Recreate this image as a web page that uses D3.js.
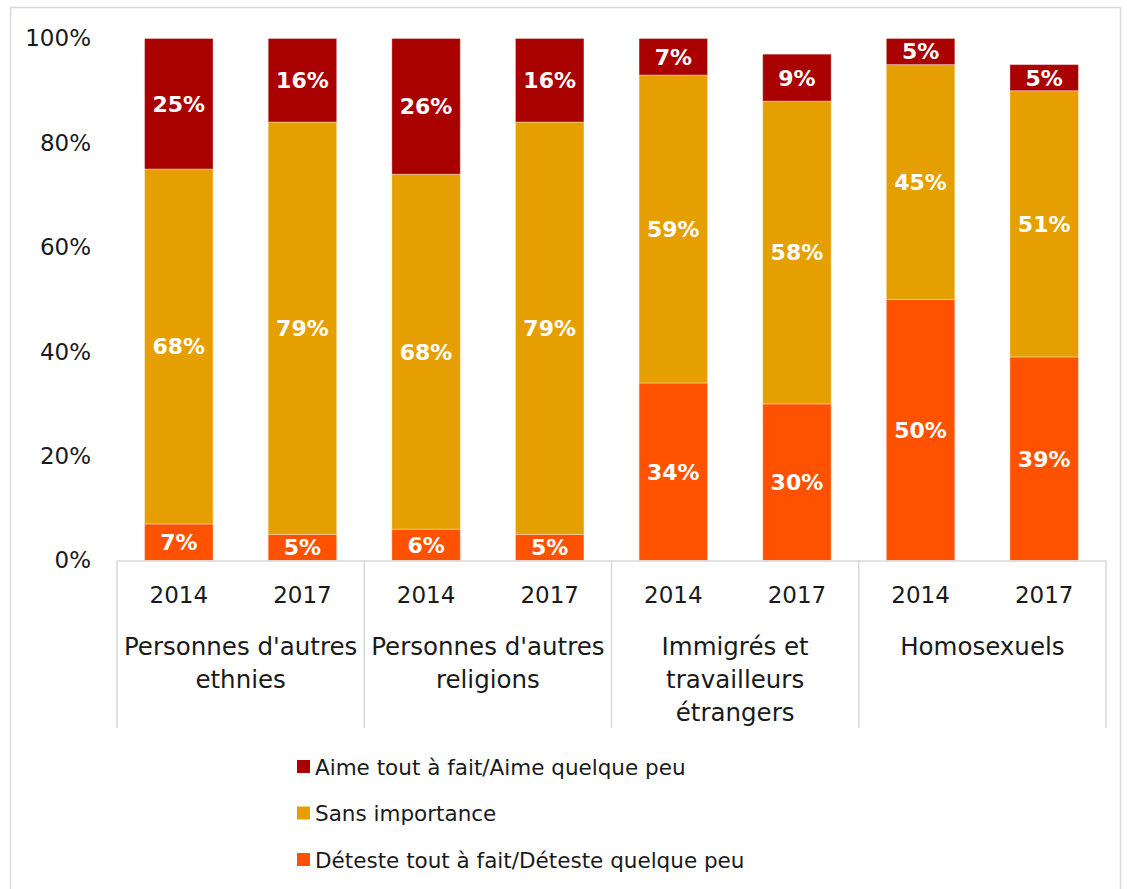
<!DOCTYPE html>
<html>
<head>
  <meta charset="utf-8">
  <title>Attitudes envers les voisins</title>
  <script src="https://d3js.org/d3.v7.min.js"></script>
  <style>
    body { margin: 0; background: #fff; font-family: "DejaVu Sans", sans-serif; }
    .tick text { font-size: 23px; fill: #1a1a1a; }
    .lbl { font-size: 22px; font-weight: bold; fill: #fff; }
    .axis-txt { font-size: 23px; fill: #1a1a1a; }
    .grp-txt { font-size: 24.5px; fill: #1a1a1a; }
    .leg-txt { font-size: 21.5px; fill: #1a1a1a; }
  </style>
</head>
<body>
  <svg id="chart" width="1127" height="889"></svg>

  <script>
    // categories and years
    const groups = [
      ["Personnes d'autres", "ethnies"],
      ["Personnes d'autres", "religions"],
      ["Immigrés et", "travailleurs", "étrangers"],
      ["Homosexuels"]
    ];
    const years = ["2014", "2017"];

    // series (one value per bar, in order: group x year)
    const seriesNames = [
      "Déteste tout à fait/Déteste quelque peu",
      "Sans importance",
      "Aime tout à fait/Aime quelque peu"
    ];
    const deteste   = [7, 5, 6, 5, 34, 30, 50, 39];
    const sansImp   = [68, 79, 68, 79, 59, 58, 45, 51];
    const aime      = [25, 16, 26, 16, 7, 9, 5, 5];
    const colors = ["#ff5200", "#e69f00", "#a90000"];

    const yTicks = [0, 20, 40, 60, 80, 100];

    const svg = d3.select("#chart");

    // outer frame
    svg.append("rect")
      .attr("x", 10.5).attr("y", 7.5)
      .attr("width", 1110).attr("height", 900)
      .attr("fill", "none")
      .attr("stroke", "#d9d9d9")
      .attr("stroke-width", 1.5);

    const x0 = 117, x1 = 1106;
    const yTop = 38.5, yBase = 560.5;

    const barKeys = [];
    groups.forEach((g, gi) => years.forEach(yr => barKeys.push(gi + "-" + yr)));

    const x = d3.scaleBand()
      .domain(barKeys)
      .range([x0, x1])
      .paddingInner(0.446)
      .paddingOuter(0.223);

    const xg = d3.scaleBand()
      .domain(groups.map((g, i) => i))
      .range([x0, x1]);

    const y = d3.scaleLinear().domain([0, 100]).range([yBase, yTop]);

    // stacked data
    const rows = barKeys.map((k, i) => ({ key: k, d: deteste[i], s: sansImp[i], a: aime[i] }));
    const stack = d3.stack().keys(["d", "s", "a"])(rows);

    // y axis
    const yAxis = svg.append("g")
      .attr("transform", "translate(91,0)")
      .call(d3.axisLeft(y).tickValues(yTicks).tickFormat(d => d + "%").tickSize(0).tickPadding(0));
    yAxis.select(".domain").remove();
    yAxis.selectAll("text").attr("font-family", "DejaVu Sans");

    // bars
    stack.forEach((layer, li) => {
      const g = svg.append("g");
      g.selectAll("rect")
        .data(layer)
        .join("rect")
        .attr("x", d => x(d.data.key))
        .attr("y", d => y(d[1]))
        .attr("width", x.bandwidth())
        .attr("height", d => y(d[0]) - y(d[1]))
        .attr("fill", colors[li])
        .attr("stroke", "#fff")
        .attr("stroke-opacity", 0.35)
        .attr("stroke-width", 1);

      g.selectAll("text")
        .data(layer)
        .join("text")
        .attr("class", "lbl")
        .attr("x", d => x(d.data.key) + x.bandwidth() / 2)
        .attr("y", d => (y(d[0]) + y(d[1])) / 2)
        .attr("dy", "0.36em")
        .attr("text-anchor", "middle")
        .text(d => (d[1] - d[0]) + "%");
    });

    // x axis line and group dividers
    svg.append("line")
      .attr("x1", x0).attr("x2", x1)
      .attr("y1", yBase + 0.5).attr("y2", yBase + 0.5)
      .attr("stroke", "#d9d9d9").attr("stroke-width", 1.5);

    const dividers = groups.map((g, i) => xg(i)).concat([x1]);
    svg.append("g")
      .selectAll("line")
      .data(dividers)
      .join("line")
      .attr("x1", d => d).attr("x2", d => d)
      .attr("y1", yBase).attr("y2", 728)
      .attr("stroke", "#d9d9d9").attr("stroke-width", 1.5);

    // year labels
    svg.append("g")
      .selectAll("text")
      .data(barKeys)
      .join("text")
      .attr("class", "axis-txt")
      .attr("x", d => x(d) + x.bandwidth() / 2)
      .attr("y", 595)
      .attr("dy", "0.36em")
      .attr("text-anchor", "middle")
      .text(d => d.split("-")[1]);

    // group labels
    const gl = svg.append("g")
      .selectAll("text")
      .data(groups)
      .join("text")
      .attr("class", "grp-txt")
      .attr("text-anchor", "middle")
      .attr("x", (d, i) => xg(i) + xg.bandwidth() / 2)
      .attr("y", 646);
    gl.selectAll("tspan")
      .data(d => d)
      .join("tspan")
      .attr("x", function () { return d3.select(this.parentNode).attr("x"); })
      .attr("dy", (d, i) => i === 0 ? "0.36em" : "1.35em")
      .text(d => d);

    // legend (top series first)
    const legendOrder = [2, 1, 0];
    const leg = svg.append("g")
      .selectAll("g")
      .data(legendOrder)
      .join("g")
      .attr("transform", (d, i) => `translate(297,${767 + i * 46.5})`);
    leg.append("rect")
      .attr("x", 0).attr("y", -7)
      .attr("width", 13).attr("height", 13)
      .attr("fill", d => colors[d]);
    leg.append("text")
      .attr("class", "leg-txt")
      .attr("x", 18)
      .attr("dy", "0.36em")
      .text(d => seriesNames[d]);
  </script>
</body>
</html>
